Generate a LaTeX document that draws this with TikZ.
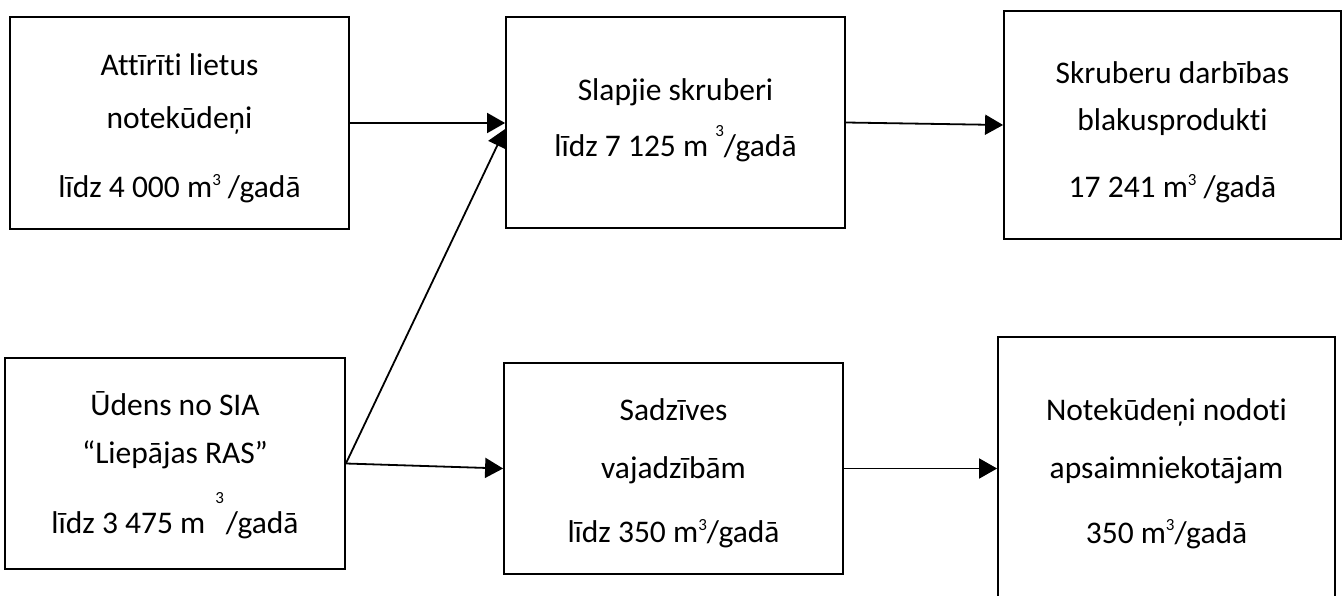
\documentclass[tikz,border=0pt]{standalone}
\usepackage{fontspec}
\setmainfont{Carlito}[Ligatures=CommonOff]
\usetikzlibrary{arrows.meta}

% small raised "3" for cubic metres; zero height so line spacing is unaffected
\newcommand\mcube[1]{\raisebox{#1}[0pt][0pt]{\fontsize{17}{17}\selectfont 3}}

\tikzset{
  box/.style={draw=black, line width=1.8pt, rectangle, inner sep=0pt},
  txt/.style={inner sep=0pt, align=center, anchor=north,
              font=\fontsize{31.5}{48}\selectfont},
  flow/.style={draw=black, line width=1.8pt,
               -{Triangle[length=18pt,width=20pt]}}
}

\begin{document}
\begin{tikzpicture}[x=1pt, y=-1pt]
  \useasboundingbox (0,0) rectangle (1344,596);
  \fill[white] (0,0) rectangle (1344,596);
  \clip (0,0) rectangle (1344,596);

  % boxes
  \node[box, minimum width=339pt, minimum height=212pt] (A) at (179.5,123)   {};
  \node[box, minimum width=339pt, minimum height=211pt] (B) at (675.5,122.5) {};
  \node[box, minimum width=337pt, minimum height=228pt] (C) at (1172.5,125)  {};
  \node[box, minimum width=340pt, minimum height=211pt] (D) at (175,463.5)   {};
  \node[box, minimum width=339pt, minimum height=211pt] (E) at (673.5,468.5) {};
  \node[box, minimum width=337pt, minimum height=263pt] (F) at (1166.5,468.5){};

  % box texts (north anchor sits 28pt above the first baseline)
  \node[txt] (At) at (179.5,47)
    {\rule{0pt}{28pt}Attīrīti lietus\\[5pt] notekūdeņi\\[21pt] līdz 4 000 m\mcube{12pt} /gadā};
  \node[txt] (Bt) at (675.5,72)
    {\rule{0pt}{28pt}Slapjie skruberi\\[8pt] līdz 7 125 m \mcube{20pt}/gadā};
  \node[txt] (Ct) at (1172.5,55)
    {\rule{0pt}{28pt}Skruberu darbības\\[-1pt] blakusprodukti\\[19pt] 17 241 m\mcube{12pt} /gadā};
  \node[txt] (Dt) at (175,387)
    {\rule{0pt}{28pt}Ūdens no SIA\\[0pt] “Liepājas RAS”\\[22pt] līdz 3 475 m\hspace{10pt}\mcube{30pt}\hspace{2pt}/gadā};
  \node[txt] (Et) at (673.5,392)
    {\rule{0pt}{28pt}Sadzīves\\[10pt] vajadzībām\\[16pt] līdz 350 m\mcube{12pt}/gadā};
  \node[txt] (Ft) at (1166.5,392)
    {\rule{0pt}{28pt}Notekūdeņi nodoti\\[10pt] apsaimniekotājam\\[17pt] 350 m\mcube{13pt}/gadā};

  % flows
  \draw[flow] (A.east) -- (A.east -| B.west);
  \draw[flow] (D.east) -- ([yshift=-6.5pt]B.west);
  \draw[flow] (D.east) -- (E.west);
  \draw[flow] (B.east) -- (C.west);
  \draw[flow] (E.east) -- (F.west);
\end{tikzpicture}
\end{document}
